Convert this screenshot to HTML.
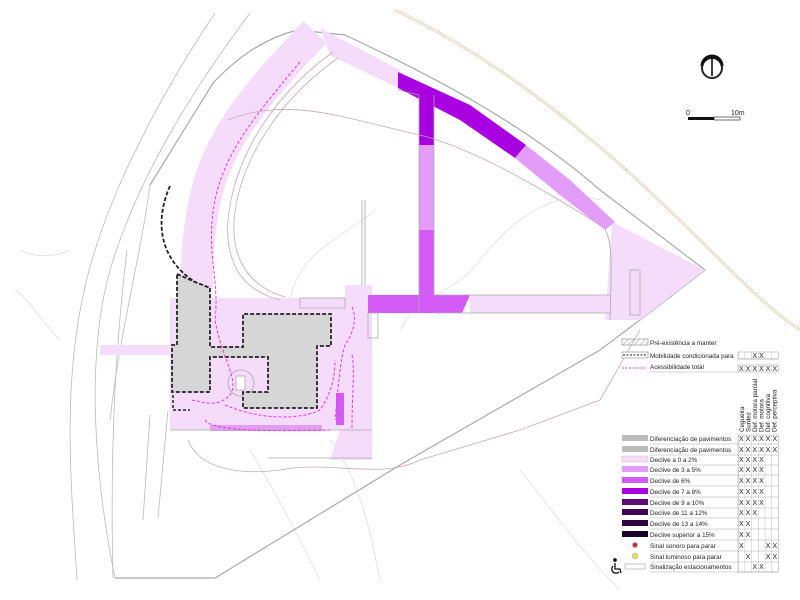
<!DOCTYPE html>
<html><head><meta charset="utf-8"><style>
html,body{margin:0;padding:0;background:#fff}
svg{display:block}
text{font-family:"Liberation Sans",sans-serif;fill:#222}
</style></head><body>
<svg width="800" height="600" viewBox="0 0 800 600" xmlns="http://www.w3.org/2000/svg">
<defs>
<pattern id="hatch" width="4" height="4" patternUnits="userSpaceOnUse" patternTransform="rotate(45)"><line x1="0" y1="0" x2="0" y2="4" stroke="#999" stroke-width="1"/></pattern>
<pattern id="cells" x="738" y="0" width="6.7" height="600" patternUnits="userSpaceOnUse"><line x1="0" y1="0" x2="0" y2="600" stroke="#999" stroke-width="0.6"/></pattern>
</defs>
<g fill="none" stroke="#bbb" stroke-width="0.8">
<path d="M215,13 C170,80 120,170 95,250 C60,360 70,470 77,580"/>
<path d="M250,13 C200,80 140,170 110,270 C85,360 95,480 115,578"/>
<path d="M150,185 C140,260 120,330 110,420"/>
<path d="M127,250 C115,350 110,450 113,578"/>
<path d="M150,415 L143,520 M168,410 L158,518"/>
<path d="M600,200 C560,190 520,210 480,260 C450,300 420,290 400,330" stroke="#ddd"/>
<path d="M375,210 C340,240 300,250 290,300" stroke="#ddd"/>
<path d="M250,450 C280,500 300,540 320,580 M330,440 C360,480 370,530 380,580 M520,470 C560,520 580,550 620,590" stroke="#ddd"/>
<path d="M20,250 C40,260 60,255 70,250 M15,290 C30,300 40,320 60,340" stroke="#ddd"/>
</g>
<path d="M395,10 C500,60 600,140 700,240 C740,280 770,310 800,330" fill="none" stroke="#d8c8a0" stroke-width="2.4"/>
<path d="M395,10 C500,60 600,140 700,240 C740,280 770,310 800,330" fill="none" stroke="#fff" stroke-width="1"/>
<path d="M150,185 L213,83 C235,60 260,40 297,30 L345,35 C420,70 520,120 600,190 L705,270 L640,320 L600,350 L400,465 L215,578 L115,578" fill="none" stroke="#aaa" stroke-width="1.2"/>
<g fill="#f5dcfa">
<path d="M315,32 C270,80 220,130 205,200 C197,240 196,270 197,290" fill="none" stroke="#f5dcfa" stroke-width="32"/>
<polygon points="320,28 400,70 398,88 330,55"/>
<polygon points="612,222 705,270 640,320 605,320"/>
<rect x="470" y="295" width="140" height="18"/>
<rect x="170" y="298" width="175" height="132"/>
<rect x="345" y="285" width="27" height="175"/>
<polygon points="340,430 372,430 372,460 330,460"/>
<rect x="100" y="345" width="72" height="10"/>
</g>
<polygon points="398,72 470,105 526,145 515,158 460,120 398,88" fill="#a800e0"/>
<polygon points="526,145 570,180 615,222 605,230 560,195 515,158" fill="#e39cf7"/>
<rect x="419" y="95" width="15" height="50" fill="#a800e0"/>
<rect x="419" y="145" width="15" height="85" fill="#e39cf7"/>
<rect x="419" y="230" width="15" height="68" fill="#d35af5"/>
<polygon points="368,295 470,295 462,313 368,313" fill="#d35af5"/>
<rect x="210" y="425" width="112" height="6" fill="#e39cf7"/>
<rect x="336" y="393" width="8" height="32" fill="#d35af5"/>
<g fill="none" stroke="#c8a8b8" stroke-width="0.8">
<path d="M333,52 C280,90 235,150 228,220 C225,260 240,290 280,300"/>
<path d="M338,58 C285,95 240,155 234,220 C232,255 245,285 285,297"/>
<path d="M228,120 C290,95 350,120 420,135 C480,150 560,200 600,225"/>
<path d="M188,440 C200,470 240,475 280,470 C330,460 380,480 420,460 L520,430 L600,400 L640,330"/>
</g>
<g fill="none" stroke="#aaa" stroke-width="0.8">
<path d="M398,90 L419,95 M434,95 L434,295 L610,295 M434,313 L610,313 M419,313 L419,95"/>
<path d="M605,230 C612,240 612,260 610,320"/>
<rect x="630" y="270" width="10" height="45"/>
<rect x="300" y="298" width="45" height="10"/>
<rect x="368" y="313" width="10" height="25"/>
<path d="M362,200 L362,285 M365,200 L365,285"/>
<path d="M170,430 L372,430 M268,458 L372,458"/>
<circle cx="241" cy="383" r="13"/>
<rect x="236" y="376" width="9" height="14" fill="#fff"/>
</g>
<path d="M170,186 C155,220 158,258 195,282 L210,288" fill="none" stroke="#222" stroke-width="1.8" stroke-dasharray="4,2"/>
<polygon points="177,274 195,282 210,288 210,347 243,347 243,314 331,314 331,346 317,346 317,408 243,408 243,392 268,392 268,357 210,357 210,392 172,392 172,345 177,345" fill="#d6d6d6" stroke="#222" stroke-width="1.8" stroke-dasharray="4,2"/>
<path d="M173,395 L173,410 L190,410" fill="none" stroke="#222" stroke-width="1.5" stroke-dasharray="3,2"/>
<g fill="none" stroke="#f030f0" stroke-width="1" stroke-dasharray="3,2">
<path d="M300,62 C260,110 225,150 215,200 C205,250 220,280 215,320 C222,360 240,380 230,395 C215,410 200,400 190,400"/>
<path d="M225,405 C260,420 300,420 320,410 C330,395 335,380 335,360"/>
<path d="M205,420 C210,430 260,432 330,430"/>
<path d="M352,307 C358,320 352,335 345,345 C340,360 338,390 335,420"/>
<path d="M352,355 C355,370 352,390 352,430"/>
</g>
<circle cx="712" cy="68" r="10" fill="none" stroke="#222" stroke-width="2"/>
<circle cx="712" cy="68" r="8" fill="#fff"/>
<path d="M702,66 A10,10 0 0 1 722,66" fill="none" stroke="#111" stroke-width="3"/>
<line x1="712" y1="55" x2="712" y2="76" stroke="#111" stroke-width="1.6"/>
<rect x="688" y="117" width="26" height="3" fill="#111"/>
<rect x="714" y="117" width="26" height="3" fill="#fff" stroke="#111" stroke-width="0.6"/>
<text x="686" y="115" font-size="7">0</text>
<text x="731" y="115" font-size="7">10m</text>
<g font-size="6.3">
<rect x="622" y="339" width="26" height="6" fill="url(#hatch)" stroke="#888" stroke-width="0.6"/>
<text x="650" y="345">Pré-existência a manter</text>
<rect x="622" y="352" width="26" height="6" fill="#fff" stroke="#888" stroke-width="0.6"/>
<line x1="623" y1="355" x2="647" y2="355" stroke="#222" stroke-dasharray="2,1.5"/>
<text x="650" y="358">Mobilidade condicionada para</text>
<line x1="622" y1="368" x2="647" y2="368" stroke="#f030f0" stroke-dasharray="2,1.5"/>
<text x="650" y="369">Acessibilidade total</text>
<line x1="650" y1="372" x2="738" y2="372" stroke="#aaa" stroke-width="0.6"/>
<rect x="622" y="435" width="26" height="6" fill="#bbb"/>
<text x="650" y="441">Diferenciação de pavimentos</text>
<rect x="622" y="446" width="26" height="6" fill="#bbb"/>
<text x="650" y="452">Diferenciação de pavimentos</text>
<rect x="622" y="456" width="26" height="6" fill="#f5dcfa" stroke="#caa" stroke-width="0.4"/>
<text x="650" y="462">Declive a 0 a 2%</text>
<rect x="622" y="466" width="26" height="6" fill="#e39cf7"/>
<text x="650" y="472">Declive de 3 a 5%</text>
<rect x="622" y="477" width="26" height="6" fill="#d35af5"/>
<text x="650" y="483">Declive de 6%</text>
<rect x="622" y="488" width="26" height="6" fill="#a800e0"/>
<text x="650" y="494">Declive de 7 a 8%</text>
<rect x="622" y="499" width="26" height="6" fill="#5c0a7a"/>
<text x="650" y="505">Declive de 9 a 10%</text>
<rect x="622" y="509" width="26" height="6" fill="#3f0658"/>
<text x="650" y="515">Declive de 11 a 12%</text>
<rect x="622" y="520" width="26" height="6" fill="#2c0440"/>
<text x="650" y="526">Declive de 13 a 14%</text>
<rect x="622" y="531" width="26" height="6" fill="#1c0228"/>
<text x="650" y="537">Declive superior a 15%</text>
<circle cx="635" cy="545" r="2.6" fill="#c22" stroke="#bbb" stroke-width="1.2"/>
<text x="650" y="548">Sinal sonoro para parar</text>
<circle cx="635" cy="556" r="2.6" fill="#ee2" stroke="#bbb" stroke-width="1.2"/>
<text x="650" y="559">Sinal luminoso para parar</text>
<rect x="625" y="564" width="20" height="5" fill="#fff" stroke="#888" stroke-width="0.5"/>
<text x="650" y="569">Sinalização  estacionamentos</text>
</g>
<g fill="none" stroke="#111" stroke-width="1.3">
<circle cx="615" cy="560" r="1.2" fill="#111"/>
<path d="M615,563 L615,569 L620,569 L621,573"/>
<path d="M613,566 A4,4 0 1 0 619,572"/>
</g>
<g stroke="#aaa" stroke-width="0.5">
<line x1="650" y1="444" x2="778" y2="444"/><line x1="650" y1="455" x2="778" y2="455"/><line x1="650" y1="465" x2="778" y2="465"/><line x1="650" y1="475" x2="778" y2="475"/><line x1="650" y1="486" x2="778" y2="486"/><line x1="650" y1="497" x2="778" y2="497"/><line x1="650" y1="508" x2="778" y2="508"/><line x1="650" y1="518" x2="778" y2="518"/><line x1="650" y1="529" x2="778" y2="529"/><line x1="650" y1="540" x2="778" y2="540"/><line x1="650" y1="551" x2="778" y2="551"/><line x1="650" y1="562" x2="778" y2="562"/><line x1="650" y1="572" x2="778" y2="572"/>
<line x1="738" y1="359" x2="778" y2="359"/>
</g>
<rect x="738" y="352" width="40.2" height="7" fill="url(#cells)" stroke="#999" stroke-width="0.5"/>
<rect x="738" y="365" width="40.2" height="7" fill="url(#cells)" stroke="#999" stroke-width="0.5"/>
<rect x="738" y="435" width="40.2" height="137" fill="url(#cells)" stroke="#999" stroke-width="0.5"/>
<g font-size="7" fill="#333" text-anchor="middle">
<text x="754.7 761.4" y="358">XX</text>
<text x="741.3 748 754.7 761.4 768.1 774.8" y="371">XXXXXX</text>
<text x="741.3 748 754.7 761.4 768.1 774.8" y="441">XXXXXX</text>
<text x="741.3 748 754.7 761.4 768.1 774.8" y="452">XXXXXX</text>
<text x="741.3 748 754.7 761.4" y="462">XXXX</text>
<text x="741.3 748 754.7 761.4" y="472">XXXX</text>
<text x="741.3 748 754.7 761.4" y="483">XXXX</text>
<text x="741.3 748 754.7 761.4" y="494">XXXX</text>
<text x="741.3 748 754.7 761.4" y="505">XXXX</text>
<text x="741.3 748 754.7" y="515">XXX</text>
<text x="741.3 748" y="526">XX</text>
<text x="741.3 748" y="537">XX</text>
<text x="741.3 768.1 774.8" y="548">XXX</text>
<text x="748 768.1 774.8" y="559">XXX</text>
<text x="754.7 761.4" y="569">XX</text>
</g>
<g font-size="6.3">
<text transform="translate(744,432) rotate(-90)">Cegueira</text>
<text transform="translate(750.5,432) rotate(-90)">Surdez</text>
<text transform="translate(757,432) rotate(-90)">Def. motora parcial</text>
<text transform="translate(763.5,432) rotate(-90)">Def. motora</text>
<text transform="translate(770,432) rotate(-90)">Def. cognitiva</text>
<text transform="translate(776.5,432) rotate(-90)">Def. perceptiva</text>
</g>
</svg>
</body></html>
